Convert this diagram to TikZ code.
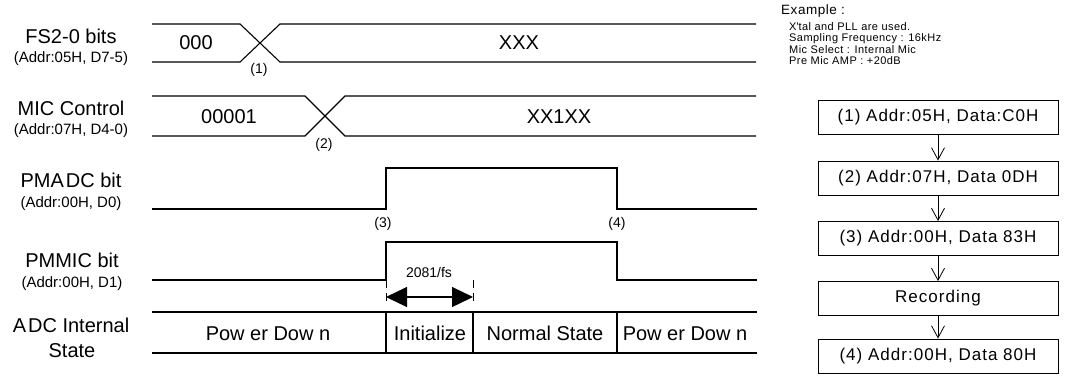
\documentclass[tikz,border=0pt]{standalone}
\usepackage{fontspec}
\setmainfont{Liberation Sans}
\newfontfamily\boxfont[LetterSpace=6]{Liberation Sans}
\newfontfamily\exfont[LetterSpace=4]{Liberation Sans}
\usetikzlibrary{arrows.meta}
\begin{document}
\begin{tikzpicture}[x=1pt,y=-1pt,
  big/.style={font=\fontsize{20}{24}\selectfont, inner sep=0pt},
  sublbl/.style={font=\fontsize{15}{18}\selectfont, inner sep=0pt},
  numlbl/.style={font=\fontsize{14}{16}\selectfont, inner sep=0pt},
  sig/.style={line width=1.1pt, line join=miter},
  extline/.style={line width=0.8pt, dash pattern=on 8pt off 5pt},
  flowbox/.style={draw, line width=0.9pt, minimum width=240pt, minimum height=34pt, inner sep=0pt, font=\boxfont\fontsize{17}{20}\selectfont},
  flowarrow/.style={line width=0.8pt, -{Straight Barb[length=12pt,width=13pt,line width=0.8pt]}},
  extext/.style={font=\exfont\fontsize{11}{13}\selectfont, inner sep=0pt, anchor=base west}
]
\useasboundingbox (0,0) rectangle (1078,381);

% left labels
\node[big, anchor=base] (l1) at (71,43) {FS2-0 bits};
\node[sublbl, anchor=base] (l1s) at (71,62) {(Addr:05H, D7-5)};
\node[big, anchor=base] (l2) at (71,115) {MIC Control};
\node[sublbl, anchor=base] (l2s) at (71,134) {(Addr:07H, D4-0)};
\node[big, anchor=base] (l3) at (71,187) {PMA\kern2pt DC bit};
\node[sublbl, anchor=base] (l3s) at (71,207) {(Addr:00H, D0)};
\node[big, anchor=base] (l4) at (72,267) {PMMIC bit};
\node[sublbl, anchor=base] (l4s) at (72,287) {(Addr:00H, D1)};
\node[big, anchor=base] (l5) at (71,332) {A\kern2pt DC Internal};
\node[big, anchor=base] (l5b) at (72,357) {State};

% FS2-0 bus
\draw[sig] (152,24) -- (240,24) -- (280,62) -- (756,62);
\draw[sig] (152,62) -- (240,62) -- (280,24) -- (756,24);
\node[big, anchor=base] (t000) at (196,49) {000};
\node[big, anchor=base] (txxx) at (519,49) {XXX};
\node[numlbl] (n1) at (259,69.5) {(1)};

% MIC bus
\draw[sig] (152,96) -- (305,96) -- (345,136) -- (756,136);
\draw[sig] (152,136) -- (305,136) -- (345,96) -- (756,96);
\node[big, anchor=base] (t00001) at (229,123) {00001};
\node[big, anchor=base] (txx1xx) at (559,123) {XX1XX};
\node[numlbl] (n2) at (324,145) {(2)};

% PMADC
\draw[sig] (152,209) -- (386,209) -- (386,168) -- (617,168) -- (617,209) -- (757,209);
\node[numlbl] (n3) at (383,224) {(3)};
\node[numlbl] (n4) at (617,224) {(4)};

% PMMIC
\draw[sig] (152,280) -- (386,280) -- (386,242) -- (617,242) -- (617,280) -- (757,280);

% 2081/fs dimension
\coordinate (dl) at (386,297);
\coordinate (dr) at (473,297);
\draw[extline] (386,280) -- (386,305);
\draw[extline] (473,280) -- (473,305);
\draw[line width=1.2pt, {Triangle[length=21pt,width=20pt]}-{Triangle[length=21pt,width=20pt]}] (dl) -- (dr);
\node[numlbl] (tfs) at (429,272) {2081/fs};

% ADC internal state
\draw[sig] (152,312) -- (757,312);
\draw[sig] (152,353) -- (757,353);
\draw[sig] (386,312) -- (386,353);
\draw[sig] (473,312) -- (473,353);
\draw[sig] (617,312) -- (617,353);
\node[big, anchor=base] (s1) at (268,340) {Pow er Dow n};
\node[big, anchor=base] (s2) at (430,340) {Initialize};
\node[big, anchor=base] (s3) at (545,340) {Normal State};
\node[big, anchor=base] (s4) at (685,340) {Pow er Dow n};

% example text
\node[font=\exfont\fontsize{13.5}{15}\selectfont, inner sep=0pt, anchor=base west] (ex) at (781,14) {Example :};
\node[extext] (e1) at (789,30) {X\textquotesingle tal and PLL are used.};
\node[extext] (e2) at (789,41.5) {Sampling Frequency : 16kHz};
\node[extext] (e3) at (789,53) {Mic Select : Internal Mic};
\node[extext] (e4) at (789,64.5) {Pre Mic AMP : +20dB};

% flow
\node[flowbox] (b1) at (938,117.5) {(1) Addr:05H, Data:C0H};
\node[flowbox] (b2) at (938,178) {(2) Addr:07H, Data 0DH};
\node[flowbox] (b3) at (938,238.5) {(3) Addr:00H, Data 83H};
\node[flowbox] (b4) at (938,298.5) {Recording};
\node[flowbox] (b5) at (938,356) {(4) Addr:00H, Data 80H};
\draw[flowarrow] (b1) -- (b2);
\draw[flowarrow] (b2) -- (b3);
\draw[flowarrow] (b3) -- (b4);
\draw[flowarrow] (b4) -- (b5);
\end{tikzpicture}
\end{document}
